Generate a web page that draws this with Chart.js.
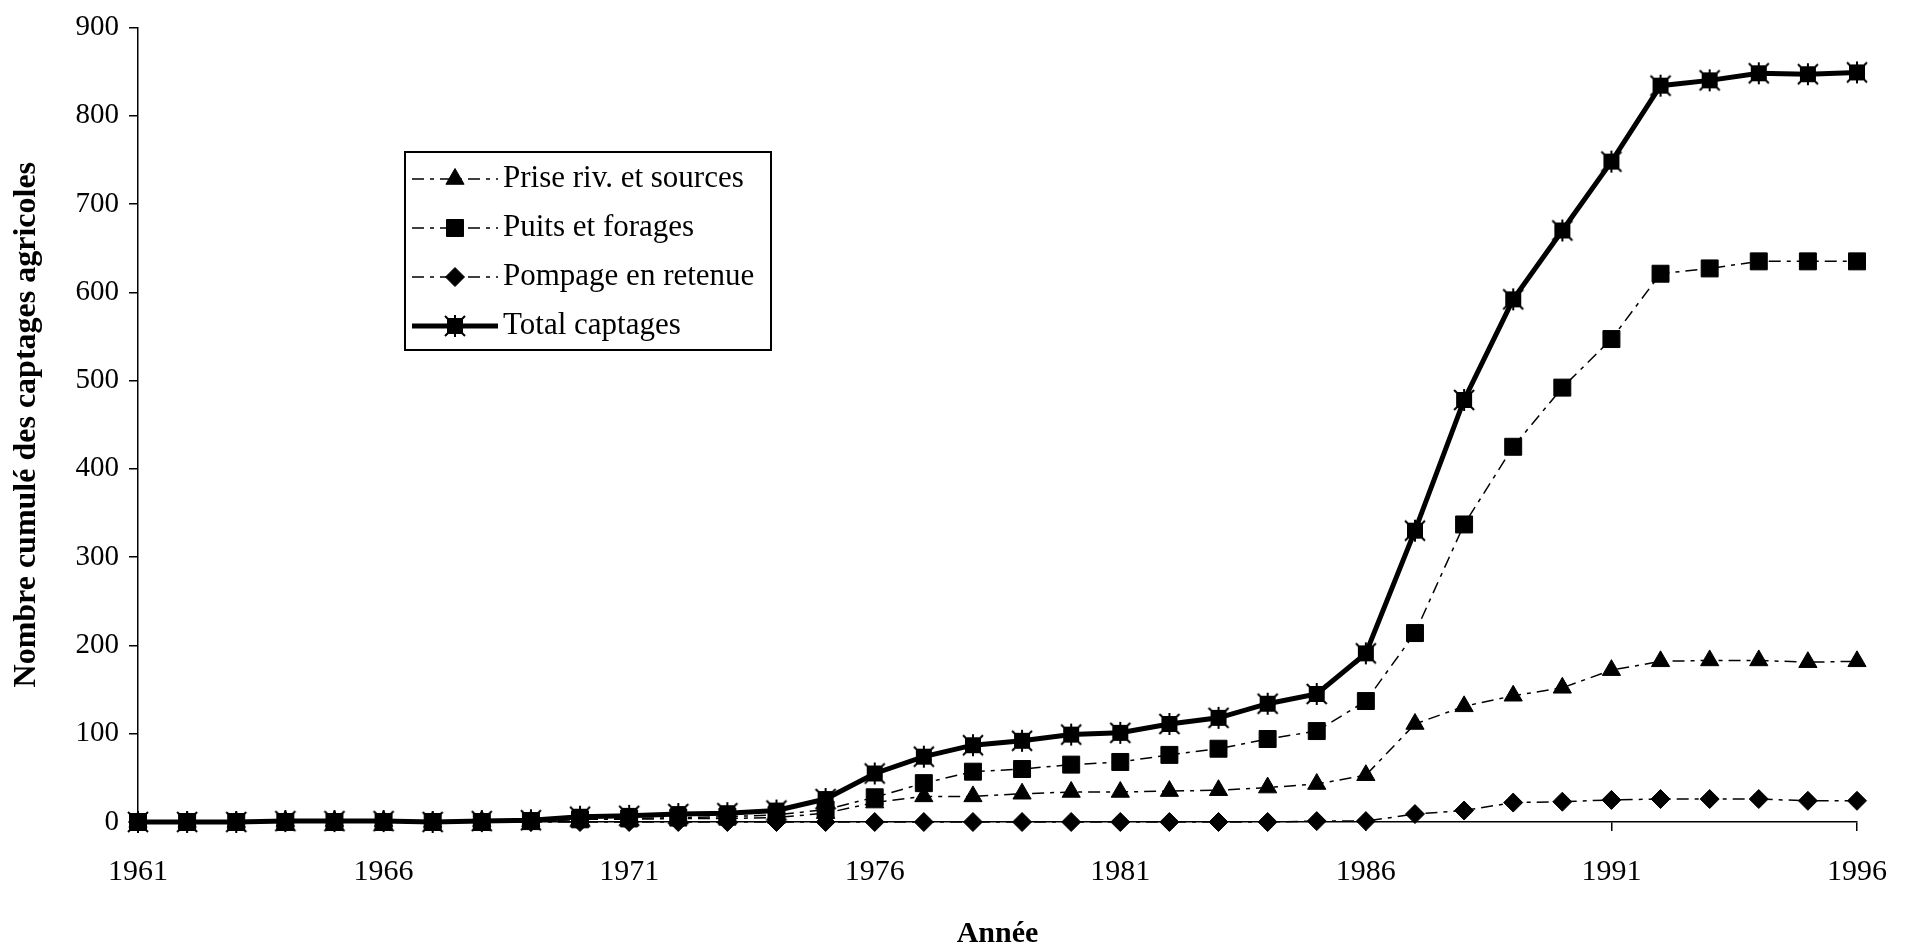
<!DOCTYPE html>
<html lang="fr">
<head>
<meta charset="utf-8">
<title>Nombre cumulé des captages agricoles</title>
<script src="https://cdn.jsdelivr.net/npm/chart.js@4.4.1/dist/chart.umd.min.js"></script>
<style>
  html, body { margin: 0; padding: 0; background: #fff; }
</style>
</head>
<body>
<canvas id="chartCaptages" width="1910" height="949"></canvas>
<script>
// données (nombre cumulé par année)
const annees = [1961, 1962, 1963, 1964, 1965, 1966, 1967, 1968, 1969, 1970,
  1971, 1972, 1973, 1974, 1975, 1976, 1977, 1978, 1979, 1980,
  1981, 1982, 1983, 1984, 1985, 1986, 1987, 1988, 1989, 1990,
  1991, 1992, 1993, 1994, 1995, 1996];
const priseRiv = [0, 0, 0, 1, 1, 1, 0, 1, 1, 3,
  3, 4, 4, 5, 10, 22, 29, 29, 32, 34,
  34, 35, 36, 39, 43, 53, 111, 131, 143, 152,
  172, 182, 183, 183, 181, 182];
const puits = [0, 0, 0, 0, 0, 0, 0, 0, 1, 3,
  4, 5, 6, 8, 14, 28, 44, 57, 60, 65,
  68, 76, 83, 94, 103, 137, 214, 337, 425, 492,
  547, 621, 627, 635, 635, 635];
const pompage = [0, 0, 0, 0, 0, 0, 0, 0, 0, 0,
  0, 0, 0, 0, 0, 0, 0, 0, 0, 0,
  0, 0, 0, 0, 1, 1, 9, 13, 22, 23,
  25, 26, 26, 26, 24, 24];
const total = [0, 0, 0, 1, 1, 1, 0, 1, 2, 6,
  7, 9, 10, 13, 26, 55, 74, 87, 92, 99,
  101, 111, 118, 134, 145, 191, 330, 478, 592, 670,
  748, 834, 840, 848, 847, 849];
const anneesAffichees = [1961, 1966, 1971, 1976, 1981, 1986, 1991, 1996];

const serif = '"Liberation Serif", "Times New Roman", serif';

// marqueur "total" : carré plein avec une croix qui dépasse aux coins
function marqueurEtoile() {
  const c = document.createElement('canvas');
  c.width = 24; c.height = 24;
  const g = c.getContext('2d');
  g.fillStyle = '#000';
  g.fillRect(4, 4, 16, 16);
  g.strokeStyle = '#000';
  g.lineWidth = 2;
  g.beginPath();
  g.moveTo(2, 2); g.lineTo(22, 22);
  g.moveTo(22, 2); g.lineTo(2, 22);
  g.moveTo(12, 1); g.lineTo(12, 23);
  g.stroke();
  return c;
}
const etoile = marqueurEtoile();

// légende encadrée à l'intérieur du graphique
const legendeCadre = {
  id: 'legendeCadre',
  afterDraw(chart) {
    const ctx = chart.ctx;
    ctx.save();
    ctx.strokeStyle = '#000';
    ctx.lineWidth = 2;
    ctx.strokeRect(405, 152, 366, 198);
    chart.data.datasets.forEach((ds, i) => {
      const y = 179 + i * 49;
      ctx.beginPath();
      ctx.setLineDash(ds.borderDash || []);
      ctx.lineWidth = ds.borderWidth;
      ctx.moveTo(412, y);
      ctx.lineTo(498, y);
      ctx.stroke();
      ctx.setLineDash([]);
      ctx.fillStyle = '#000';
      ctx.lineWidth = 1;
      Chart.helpers.drawPoint(ctx, {
        pointStyle: ds.pointStyle, radius: ds.pointRadius, rotation: 0, borderWidth: 1
      }, 455, y);
      ctx.font = '31px ' + serif;
      ctx.textBaseline = 'alphabetic';
      ctx.textAlign = 'left';
      ctx.fillText(ds.label, 503, y + 8);
    });
    ctx.restore();
  }
};

const ctx = document.getElementById('chartCaptages').getContext('2d');

new Chart(ctx, {
  type: 'line',
  data: {
    labels: annees,
    datasets: [{
      label: 'Prise riv. et sources',
      data: priseRiv,
      borderColor: '#000',
      backgroundColor: '#000',
      borderWidth: 1.5,
      borderDash: [12, 6, 4, 6],
      pointStyle: 'triangle',
      pointRadius: 10.5,
      pointBorderWidth: 1,
      clip: false
    }, {
      label: 'Puits et forages',
      data: puits,
      borderColor: '#000',
      backgroundColor: '#000',
      borderWidth: 1.5,
      borderDash: [12, 6, 4, 6],
      pointStyle: 'rect',
      pointRadius: 12,
      pointBorderWidth: 1,
      clip: false
    }, {
      label: 'Pompage en retenue',
      data: pompage,
      borderColor: '#000',
      backgroundColor: '#000',
      borderWidth: 1.5,
      borderDash: [12, 6, 4, 6],
      pointStyle: 'rectRot',
      pointRadius: 9.5,
      pointBorderWidth: 1,
      clip: false
    }, {
      label: 'Total captages',
      data: total,
      borderColor: '#000',
      backgroundColor: '#000',
      borderWidth: 5,
      pointStyle: etoile,
      pointRadius: 12,
      pointBorderWidth: 1,
      clip: false
    }]
  },
  options: {
    responsive: false,
    animation: false,
    layout: { padding: { left: 0, right: 52, top: 24, bottom: 0 } },
    plugins: {
      legend: { display: false },
      tooltip: { enabled: false }
    },
    scales: {
      x: {
        type: 'category',
        offset: false,
        grid: { display: true, drawOnChartArea: false, drawTicks: true, tickLength: 9, color: '#000', lineWidth: 1.5 },
        border: { display: true, color: '#000', width: 1.5 },
        ticks: {
          autoSkip: false,
          maxRotation: 0,
          padding: 23,
          color: '#000',
          font: { family: serif, size: 30 },
          callback: function (val, idx) {
            const a = annees[idx];
            return anneesAffichees.includes(a) ? String(a) : null;
          }
        },
        title: {
          display: true,
          text: 'Année',
          color: '#000',
          font: { family: serif, size: 30, weight: 'bold', lineHeight: 1 },
          padding: { top: 0, bottom: 0 }
        },
        afterFit(scale) { scale.height = 127; }
      },
      y: {
        min: 0,
        max: 900,
        grid: { display: true, drawOnChartArea: false, drawTicks: true, tickLength: 9, color: '#000', lineWidth: 1.5 },
        border: { display: true, color: '#000', width: 1.5 },
        ticks: {
          stepSize: 100,
          padding: 10,
          color: '#000',
          font: { family: serif, size: 29 }
        },
        title: {
          display: true,
          text: 'Nombre cumulé des captages agricoles',
          color: '#000',
          font: { family: serif, size: 32, weight: 'bold' },
          padding: { top: 8, bottom: 0 }
        },
        afterFit(scale) { scale.width = 138; }
      }
    }
  },
  plugins: [legendeCadre]
});
</script>
</body>
</html>
